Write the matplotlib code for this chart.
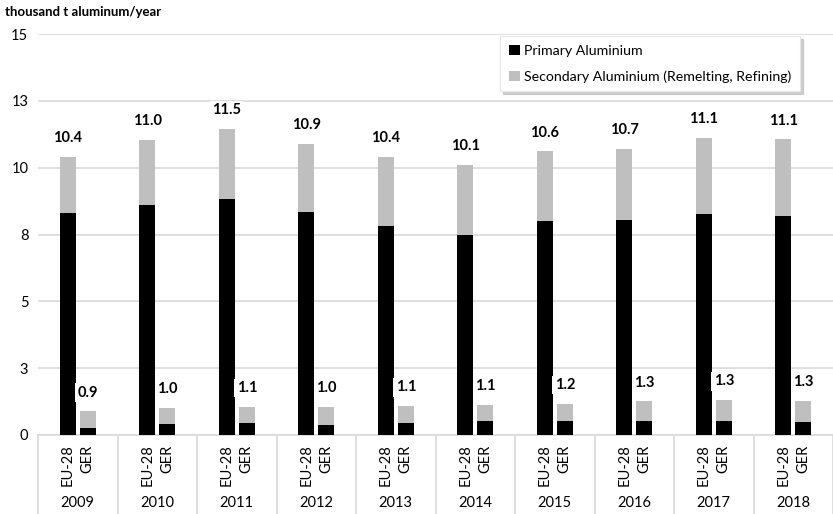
import matplotlib.pyplot as plt
import numpy as np
from matplotlib.lines import Line2D
from matplotlib.transforms import blended_transform_factory

plt.rcParams["font.family"] = ["Lato", "DejaVu Sans"]

YEARS = ["2009", "2010", "2011", "2012", "2013", "2014", "2015", "2016", "2017", "2018"]
REGIONS = ["EU-28", "GER"]

# thousand t aluminium per year
EU_PRIMARY = [8.29, 8.59, 8.84, 8.35, 7.83, 7.48, 7.99, 8.05, 8.27, 8.19]
EU_SECONDARY = [2.11, 2.45, 2.62, 2.55, 2.56, 2.62, 2.62, 2.65, 2.83, 2.87]
GER_PRIMARY = [0.27, 0.40, 0.44, 0.37, 0.46, 0.52, 0.51, 0.54, 0.54, 0.50]
GER_SECONDARY = [0.61, 0.60, 0.62, 0.67, 0.62, 0.60, 0.66, 0.72, 0.76, 0.77]

Y_TICKS = [0, 2.5, 5, 7.5, 10, 12.5, 15]
Y_TICK_LABELS = ["0", "3", "5", "8", "10", "13", "15"]

BLACK = "#000000"
GREY = "#bfbfbf"
LINE = "#d9d9d9"


def main() -> None:
    fig = plt.figure(figsize=(8.33, 5.14), dpi=100)
    ax = fig.add_axes([38 / 833, 1 - 435 / 514, 795 / 833, 401 / 514])

    groups = np.arange(len(YEARS))
    offset = 0.126
    width = 0.205
    x_eu = groups - offset
    x_ger = groups + offset

    ax.bar(x_eu, EU_PRIMARY, width, color=BLACK, label="Primary Aluminium", zorder=3)
    ax.bar(x_eu, EU_SECONDARY, width, bottom=EU_PRIMARY, color=GREY,
           label="Secondary Aluminium (Remelting, Refining)", zorder=3)
    ax.bar(x_ger, GER_PRIMARY, width, color=BLACK, zorder=3)
    ax.bar(x_ger, GER_SECONDARY, width, bottom=GER_PRIMARY, color=GREY, zorder=3)

    label_box = dict(boxstyle="square,pad=0.15", facecolor="white", edgecolor="none")
    for xs, prim, sec in ((x_eu, EU_PRIMARY, EU_SECONDARY), (x_ger, GER_PRIMARY, GER_SECONDARY)):
        for x, p, s in zip(xs, prim, sec):
            total = p + s
            ax.annotate(f"{total:.1f}", (x, total), xytext=(0, 8.5), textcoords="offset points",
                        ha="center", va="bottom", fontsize=10.5, fontweight="bold",
                        bbox=label_box, zorder=4)

    ax.set_xlim(-0.5, len(YEARS) - 0.5)
    ax.set_ylim(0, 15)
    ax.set_yticks(Y_TICKS)
    ax.set_yticklabels(Y_TICK_LABELS)
    ax.yaxis.grid(True, color=LINE, linewidth=1.2, zorder=0)
    ax.set_axisbelow(True)
    ax.tick_params(axis="y", length=0, pad=7, labelsize=10.5)
    for side in ("left", "right", "top"):
        ax.spines[side].set_visible(False)
    ax.spines["bottom"].set_color(LINE)
    ax.spines["bottom"].set_linewidth(1.2)

    ax.set_xticks(np.concatenate([x_eu, x_ger]))
    ax.set_xticklabels([REGIONS[0]] * len(YEARS) + [REGIONS[1]] * len(YEARS),
                       rotation=90, va="top", fontsize=10.5)
    ax.tick_params(axis="x", length=0, pad=7)

    # two-level category axis: dividers and year row
    trans = blended_transform_factory(ax.transData, ax.transAxes)
    for edge in np.arange(len(YEARS) + 1) - 0.5:
        ax.add_line(Line2D([edge, edge], [0, -0.2], transform=trans, color=LINE,
                           linewidth=1.2, clip_on=False))
    for g, year in zip(groups, YEARS):
        ax.text(g, -0.169, year, transform=trans, ha="center", va="center", fontsize=10.5)

    fig.text(5 / 833, 1 - 12 / 514, "thousand t aluminum/year", fontsize=9.5,
             fontweight="bold", ha="left", va="center")

    leg = ax.legend(loc="upper left", bbox_to_anchor=(460 / 795, 1.0), frameon=True,
                    shadow={"ox": 2, "oy": -2, "color": "#b0b0b0", "alpha": 0.6},
                    fancybox=False, fontsize=10.2, handlelength=0.8,
                    handleheight=0.8, handletextpad=0.3, labelspacing=0.95,
                    borderpad=0.6, borderaxespad=0.15)
    leg.get_frame().set_edgecolor("#e6e6e6")
    leg.get_frame().set_linewidth(0.8)

    fig.savefig("out.png", dpi=100)
    plt.close(fig)


if __name__ == "__main__":
    main()
